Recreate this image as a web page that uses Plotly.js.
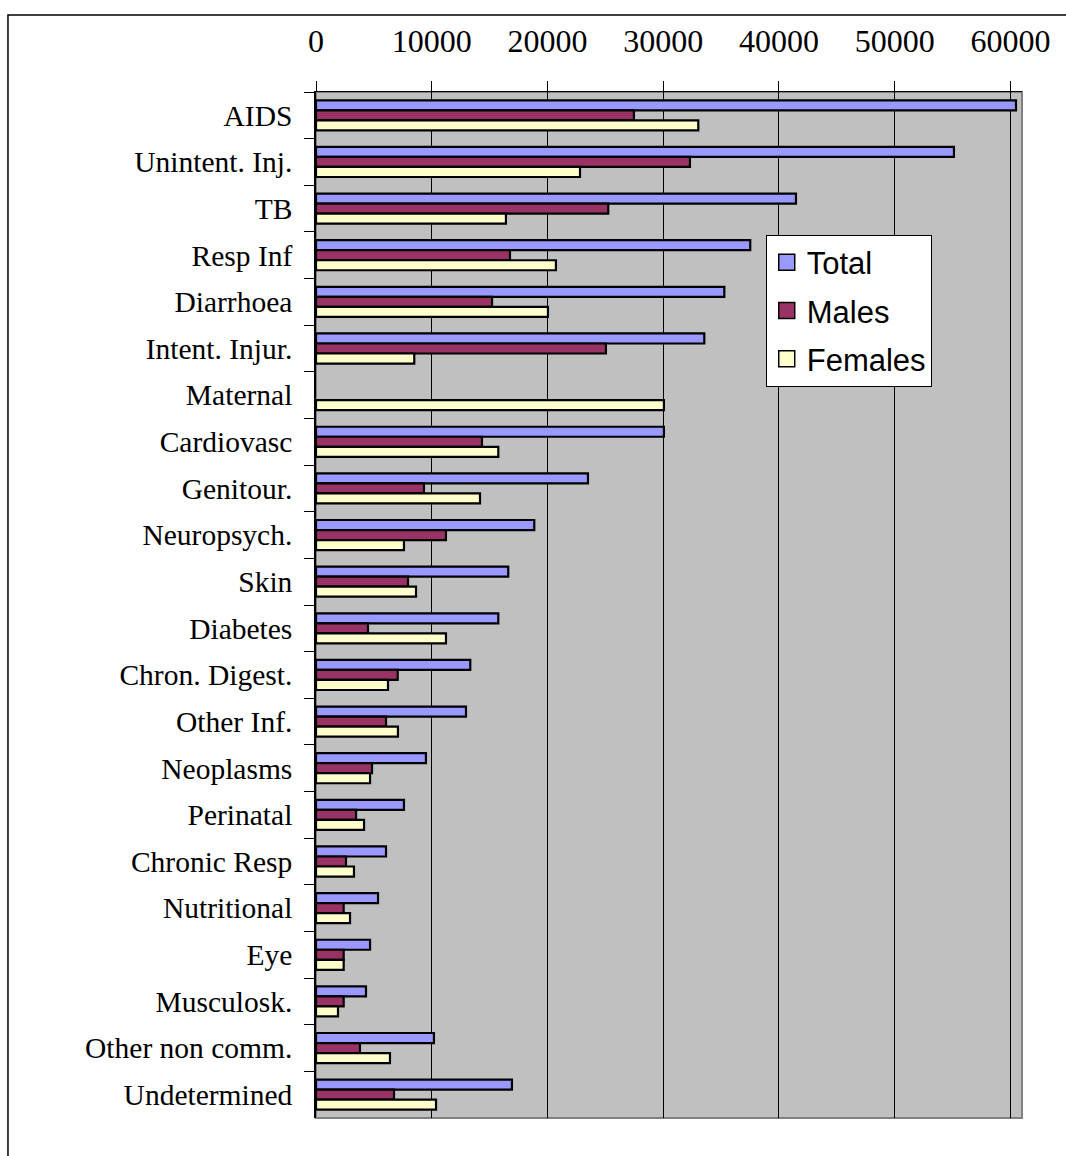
<!DOCTYPE html>
<html>
<head>
<meta charset="utf-8">
<script src="https://cdn.plot.ly/plotly-3.0.1.min.js"></script>
<style>
  html, body { margin: 0; padding: 0; background: #ffffff; }
  #chart { width: 1066px; height: 1156px; }
</style>
</head>
<body>
<div id="chart"></div>
<script>
const categories = [
  "AIDS", "Unintent. Inj.", "TB", "Resp Inf", "Diarrhoea", "Intent. Injur.",
  "Maternal", "Cardiovasc", "Genitour.", "Neuropsych.", "Skin", "Diabetes",
  "Chron. Digest.", "Other Inf.", "Neoplasms", "Perinatal", "Chronic Resp",
  "Nutritional", "Eye", "Musculosk.", "Other non comm.", "Undetermined"
];
const totalValues = [
  60480, 55120, 41470, 37520, 35280, 33550,
  null, 30060, 23500, 18860, 16610, 15750,
  13330, 12960, 9500, 7600, 6050,
  5360, 4670, 4320, 10190, 16930
];
const maleValues = [
  27470, 32310, 25250, 16760, 15210, 25050,
  null, 14340, 9330, 11230, 7950, 4490,
  7060, 6050, 4840, 3460, 2590,
  2390, 2390, 2390, 3800, 6740
];
const femaleValues = [
  33030, 22810, 16410, 20730, 20040, 8490,
  30060, 15750, 14170, 7600, 8640, 11230,
  6220, 7080, 4670, 4150, 3280,
  2940, 2390, 1900, 6390, 10370
];
const seriesNames = ["Total", "Males", "Females"];
const seriesColors = ["#9999FF", "#993366", "#FFFFCC"];
const xTickValues = [0, 10000, 20000, 30000, 40000, 50000, 60000];

const seriesValues = [totalValues, maleValues, femaleValues];
const barTraces = seriesNames.map((name, i) => ({
  type: "bar",
  orientation: "h",
  name: name,
  legendgroup: name,
  showlegend: false,
  y: categories,
  x: seriesValues[i],
  marker: { color: seriesColors[i], line: { color: "#000000", width: 2.2 } },
  hoverinfo: "x+y+name"
}));
// legend-only entries with larger square swatches
const legendTraces = seriesNames.map((name, i) => ({
  type: "scatter",
  mode: "markers",
  name: name,
  legendgroup: name,
  showlegend: true,
  x: [null],
  y: [null],
  marker: { symbol: "square", size: 16, color: seriesColors[i], line: { color: "#000000", width: 1.5 } },
  hoverinfo: "skip"
}));

const layout = {
  width: 1066,
  height: 1156,
  margin: { l: 316, r: 44, t: 92, b: 38 },
  paper_bgcolor: "#FFFFFF",
  plot_bgcolor: "#C0C0C0",
  barmode: "group",
  bargap: 0.355,
  bargroupgap: 0,
  showlegend: true,
  legend: {
    x: 0.637, y: 0.861, xanchor: "left", yanchor: "top",
    bgcolor: "#FFFFFF", bordercolor: "#000000", borderwidth: 1,
    font: { family: "Liberation Sans, Arial, sans-serif", size: 31, color: "#000000" },
    traceorder: "grouped",
    tracegroupgap: 5,
    itemwidth: 30
  },
  xaxis: {
    side: "top",
    range: [0, 61000],
    tickvals: xTickValues,
    ticktext: xTickValues.map(v => String(v)),
    ticks: "outside",
    ticklen: 10,
    tickcolor: "#000000",
    tickwidth: 1,
    ticklabelstandoff: 16,
    showgrid: true,
    gridcolor: "#000000",
    gridwidth: 1,
    zeroline: false,
    showline: true,
    linecolor: "#000000",
    linewidth: 1,
    tickfont: { family: "Liberation Serif, Times New Roman, serif", size: 32, color: "#000000" }
  },
  yaxis: {
    type: "category",
    autorange: "reversed",
    tickson: "boundaries",
    ticks: "outside",
    ticklen: 10,
    tickcolor: "#000000",
    tickwidth: 1,
    ticklabelstandoff: 16,
    showgrid: false,
    zeroline: false,
    showline: true,
    linecolor: "#000000",
    linewidth: 1.5,
    tickfont: { family: "Liberation Serif, Times New Roman, serif", size: 29.5, color: "#000000" }
  },
  shapes: [
    {
      type: "rect", xref: "paper", yref: "paper",
      x0: 0, x1: 1, y0: 0, y1: 1,
      line: { color: "#808080", width: 2 }, layer: "below"
    },
    {
      type: "rect", xref: "paper", yref: "paper",
      x0: -0.4363, x1: 1.075, y0: -0.05, y1: 1.0750,
      line: { color: "#000000", width: 1.5 }, fillcolor: "rgba(0,0,0,0)"
    }
  ]
};

Plotly.newPlot("chart", barTraces.concat(legendTraces), layout, { displayModeBar: false, responsive: false });
</script>
</body>
</html>
